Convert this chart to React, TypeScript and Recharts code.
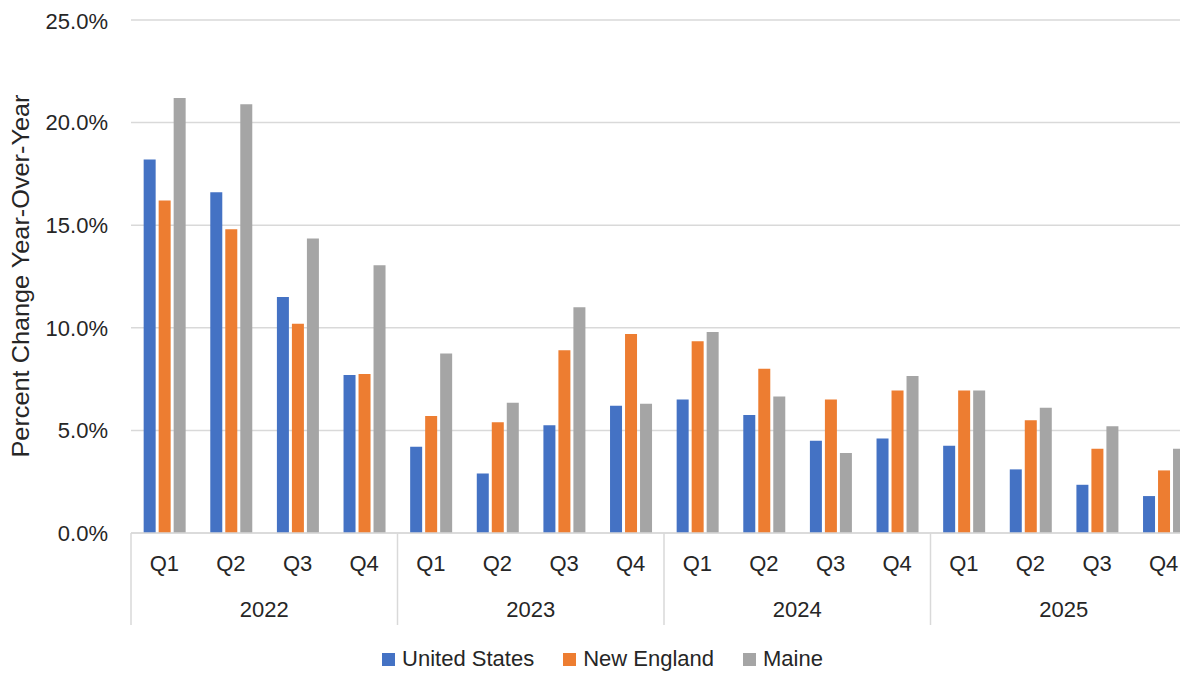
import React from "react";
import { BarChart, Bar, XAxis, YAxis, CartesianGrid, Legend } from "recharts";

const years = ["2022", "2023", "2024", "2025"];
const quarters = ["Q1", "Q2", "Q3", "Q4"];
const unitedStates = [18.2, 16.6, 11.5, 7.7, 4.2, 2.9, 5.25, 6.2, 6.5, 5.75, 4.5, 4.6, 4.25, 3.1, 2.35, 1.8];
const newEngland = [16.2, 14.8, 10.2, 7.75, 5.7, 5.4, 8.9, 9.7, 9.35, 8.0, 6.5, 6.95, 6.95, 5.5, 4.1, 3.05];
const maine = [21.2, 20.9, 14.35, 13.05, 8.75, 6.35, 11.0, 6.3, 9.8, 6.65, 3.9, 7.65, 6.95, 6.1, 5.2, 4.1];
const yTicks = [0, 5, 10, 15, 20, 25];
const seriesNames = ["United States", "New England", "Maine"];
const colors = ["#4472C4", "#ED7D31", "#A5A5A5"];

const data = unitedStates.map((v, i) => ({
  quarter: quarters[i % 4],
  year: years[Math.floor(i / 4)],
  us: v,
  ne: newEngland[i],
  me: maine[i],
}));

const CHART_W = 1200;
const CHART_H = 665;
const MARGIN = { top: 12, right: 11, left: 0, bottom: 0 };
const Y_W = 123;
const PLOT_W = CHART_W - MARGIN.left - MARGIN.right - Y_W;
const BAND = PLOT_W / data.length;
const FONT = "'Liberation Sans', Arial, sans-serif";
const TEXT = "#262626";
const GRID = "#d9d9d9";

const XTick = (props: any) => {
  const { x, y, payload } = props;
  const idx = payload.index;
  const item = data[idx];
  return (
    <g>
      <text x={x} y={y + 30} textAnchor="middle" dominantBaseline="central" fontSize={22} fontFamily={FONT} fill={TEXT}>
        {payload.value}
      </text>
      {idx % 4 === 0 && (
        <line x1={x - BAND / 2} x2={x - BAND / 2} y1={y} y2={y + 92} stroke={GRID} strokeWidth={1.5} />
      )}
      {idx === data.length - 1 && (
        <line x1={x + BAND / 2} x2={x + BAND / 2} y1={y} y2={y + 92} stroke={GRID} strokeWidth={1.5} />
      )}
      {idx % 4 === 1 && (
        <text x={x + BAND / 2} y={y + 76} textAnchor="middle" dominantBaseline="central" fontSize={22} fontFamily={FONT} fill={TEXT}>
          {item.year}
        </text>
      )}
    </g>
  );
};

const YLabel = () => (
  <text
    x={12}
    y={268}
    transform="rotate(-90, 12, 268)"
    textAnchor="middle"
    dominantBaseline="central"
    fontSize={24}
    textLength={363}
    lengthAdjust="spacingAndGlyphs"
    fontFamily={FONT}
    fill={TEXT}
  >
    Percent Change Year-Over-Year
  </text>
);

const LegendContent = () => (
  <div style={{ display: "flex", justifyContent: "center", alignItems: "center", paddingTop: 15, fontFamily: FONT, fontSize: 22, lineHeight: "22px", color: TEXT }}>
    {seriesNames.map((n, i) => (
      <div key={n} style={{ display: "flex", alignItems: "center", marginRight: i < 2 ? 29 : 0 }}>
        <div style={{ width: 13, height: 13, background: colors[i], marginRight: 7 }} />
        <span>{n}</span>
      </div>
    ))}
  </div>
);

export default function App() {
  return (
    <div style={{ width: 1180, height: CHART_H, overflow: "hidden", position: "relative" }}>
      <BarChart
        width={CHART_W}
        height={CHART_H}
        data={data}
        margin={MARGIN}
        barCategoryGap="19%"
        barGap={3}
      >
        <CartesianGrid vertical={false} stroke={GRID} strokeWidth={1.5} />
        <XAxis
          dataKey="quarter"
          interval={0}
          height={100}
          tickLine={false}
          tickSize={0}
          tickMargin={0}
          axisLine={{ stroke: GRID, strokeWidth: 1.5 }}
          tick={<XTick />}
        />
        <YAxis
          width={Y_W}
          domain={[0, 25]}
          ticks={yTicks}
          tickFormatter={(v: number) => v.toFixed(1) + "%"}
          axisLine={false}
          tickLine={false}
          tickSize={0}
          tickMargin={23}
          tick={{ fontSize: 22, fontFamily: FONT, fill: TEXT }}
          label={<YLabel />}
        />
        <Legend verticalAlign="bottom" height={40} content={<LegendContent />} />
        <Bar dataKey="us" name={seriesNames[0]} fill={colors[0]} isAnimationActive={false} />
        <Bar dataKey="ne" name={seriesNames[1]} fill={colors[1]} isAnimationActive={false} />
        <Bar dataKey="me" name={seriesNames[2]} fill={colors[2]} isAnimationActive={false} />
      </BarChart>
    </div>
  );
}
